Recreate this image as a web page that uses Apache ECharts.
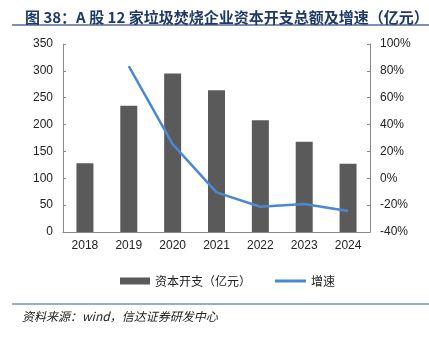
<!DOCTYPE html>
<html>
<head>
<meta charset="utf-8">
<script src="https://cdn.jsdelivr.net/npm/echarts@6/dist/echarts.min.js"></script>
<style>
  html, body { margin: 0; padding: 0; background: #fff; }
  #chart { width: 429px; height: 338px; }
</style>
</head>
<body>
<div id="chart"></div>
<script>
// Capital expenditure of 12 listed waste-to-energy companies
const years = ['2018', '2019', '2020', '2021', '2022', '2023', '2024'];
const capex = [128, 235, 295, 264, 208, 168, 127];          // 亿元
const growth = [null, 83.6, 25.5, -10.5, -21.2, -19.2, -24.4]; // %
const leftTicks = { min: 0, max: 350, interval: 50 };
const rightTicks = { min: -40, max: 100, interval: 20 };

const axisGray = '#898989';
const textColor = '#222';
const labelFont = 'Liberation Sans, Arial, sans-serif';
const legendText = { fontFamily: 'Noto Sans CJK SC, sans-serif', fontSize: 12, color: textColor };

const chart = echarts.init(document.getElementById('chart'));
chart.setOption({
  animation: false,
  title: {
    text: '图 38：A 股 12 家垃圾焚烧企业资本开支总额及增速（亿元）',
    left: 20,
    top: 5,
    textStyle: {
      fontFamily: 'Noto Sans CJK SC, sans-serif',
      fontWeight: 'bold',
      fontSize: 15,
      color: '#1f3a66'
    }
  },
  graphic: [
    { type: 'line', shape: { x1: 12, y1: 25, x2: 429, y2: 25 },
      style: { stroke: '#7d90b3', lineWidth: 2 } },
    { type: 'line', shape: { x1: 12, y1: 304, x2: 429, y2: 304 },
      style: { stroke: '#7d90b3', lineWidth: 1.5 } },
    { type: 'text', left: 22, top: 310,
      style: { text: '资料来源：wind，信达证券研发中心',
        font: 'italic 12px "Noto Sans CJK SC", sans-serif', fill: '#222' } }
  ],
  legend: [
    {
      top: 270, left: 115,
      itemWidth: 30, itemHeight: 7, itemGap: 4,
      textStyle: legendText,
      data: [{ name: '资本开支（亿元）', icon: 'rect' }]
    },
    {
      top: 270, left: 270,
      itemWidth: 31, itemHeight: 3, itemGap: 4,
      textStyle: legendText,
      data: [{ name: '增速', icon: 'rect' }]
    }
  ],
  grid: { left: 63, right: 59, top: 44, bottom: 106 },
  xAxis: {
    type: 'category',
    data: years,
    axisLine: { lineStyle: { color: axisGray } },
    axisTick: { inside: true, length: 4, lineStyle: { color: axisGray } },
    axisLabel: { color: textColor, fontFamily: labelFont, fontSize: 12, margin: 8 }
  },
  yAxis: [
    {
      type: 'value',
      min: leftTicks.min, max: leftTicks.max, interval: leftTicks.interval,
      splitLine: { show: false },
      axisLine: { show: true, lineStyle: { color: axisGray } },
      axisTick: { show: true, inside: true, length: 3, lineStyle: { color: axisGray } },
      axisLabel: { color: textColor, fontFamily: labelFont, fontSize: 12, margin: 10 }
    },
    {
      type: 'value',
      min: rightTicks.min, max: rightTicks.max, interval: rightTicks.interval,
      splitLine: { show: false },
      axisLine: { show: true, lineStyle: { color: axisGray } },
      axisTick: { show: true, inside: true, length: 3, lineStyle: { color: axisGray } },
      axisLabel: { color: textColor, fontFamily: labelFont, fontSize: 12, margin: 10,
        formatter: v => v + '%' }
    }
  ],
  series: [
    {
      name: '资本开支（亿元）',
      type: 'bar',
      data: capex,
      barWidth: 17,
      itemStyle: { color: '#5a5a5a' }
    },
    {
      name: '增速',
      type: 'line',
      yAxisIndex: 1,
      data: growth,
      symbol: 'none',
      lineStyle: { color: '#4a88d6', width: 2.5 },
      itemStyle: { color: '#4a88d6' }
    }
  ]
});
</script>
</body>
</html>
